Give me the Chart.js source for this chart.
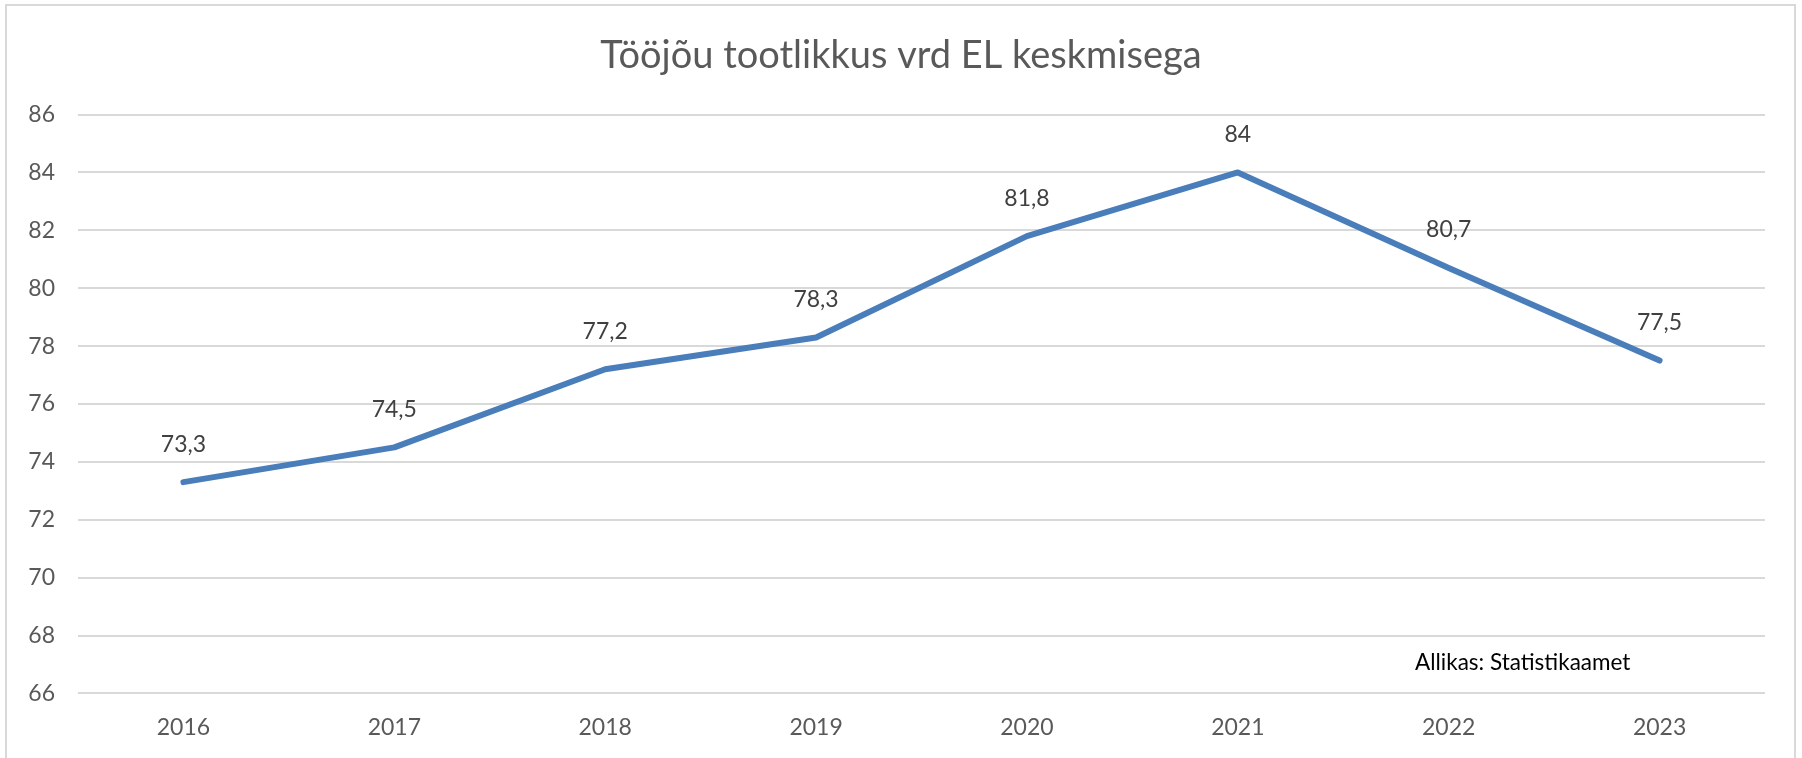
<!DOCTYPE html>
<html>
<head>
<meta charset="utf-8">
<script src="https://cdn.jsdelivr.net/npm/chart.js@4"></script>
<style>
  html, body { margin: 0; padding: 0; background: #fff; overflow: hidden; }
  #wrap { position: relative; width: 1802px; height: 758px; }
  #frame { position: absolute; left: 5px; top: 4px; width: 1791px; height: 800px; border: 2px solid #d9d9d9; box-sizing: border-box; }
  #src { position: absolute; left: 1415px; top: 648px; font-family: Lato, sans-serif; font-size: 22.5px; color: #000; }
</style>
</head>
<body>
<div id="wrap">
  <div id="frame"></div>
  <canvas id="chart" width="1802" height="758"></canvas>
  <div id="src">Allikas: Statistikaamet</div>
</div>
<script>
const years = ['2016', '2017', '2018', '2019', '2020', '2021', '2022', '2023'];
const productivity = [73.3, 74.5, 77.2, 78.3, 81.8, 84, 80.7, 77.5];
const yMin = 66;
const yMax = 86;
const yStep = 2;

// Excel-style value labels above each point, with decimal comma
const valueLabels = {
    id: 'valueLabels',
    afterDatasetsDraw(chart) {
        const ctx = chart.ctx;
        const meta = chart.getDatasetMeta(0);
        ctx.save();
        ctx.font = '23px Lato, sans-serif';
        ctx.fillStyle = '#404040';
        ctx.textAlign = 'center';
        ctx.textBaseline = 'middle';
        meta.data.forEach((pt, i) => {
            const txt = String(productivity[i]).replace('.', ',');
            ctx.fillText(txt, pt.x, pt.y - 38);
        });
        ctx.restore();
    }
};

new Chart(document.getElementById('chart').getContext('2d'), {
    type: 'line',
    data: {
        labels: years,
        datasets: [{
            data: productivity,
            yAxisID: 'y',
            borderColor: '#4a7ebb',
            borderWidth: 6,
            borderCapStyle: 'round',
            borderJoinStyle: 'round',
            pointRadius: 0,
            tension: 0
        }]
    },
    options: {
        responsive: false,
        animation: false,
        layout: { padding: { left: 0, right: 0, top: 33, bottom: 5 } },
        plugins: {
            legend: { display: false },
            tooltip: { enabled: false },
            title: {
                display: true,
                text: 'Tööjõu tootlikkus vrd EL keskmisega',
                color: '#595959',
                font: { family: 'Lato, sans-serif', size: 38, weight: 'normal' },
                padding: { top: 0, bottom: 36 }
            }
        },
        scales: {
            x: {
                offset: true,
                grid: { display: false },
                border: { display: false },
                ticks: { color: '#595959', font: { family: 'Lato, sans-serif', size: 23 }, padding: 12 }
            },
            y: {
                min: yMin,
                max: yMax,
                afterFit(scale) { scale.width = 78; },
                grid: { color: '#d9d9d9', lineWidth: 2, drawTicks: false },
                border: { display: false },
                ticks: { stepSize: yStep, color: '#595959', font: { family: 'Lato, sans-serif', size: 23 }, padding: 23 }
            },
            // empty right-hand margin, keeps the title centred on the whole frame
            yRight: {
                position: 'right',
                min: yMin,
                max: yMax,
                afterFit(scale) { scale.width = 37; },
                grid: { display: false },
                border: { display: false },
                ticks: { display: false }
            }
        }
    },
    plugins: [valueLabels]
});
</script>
</body>
</html>
